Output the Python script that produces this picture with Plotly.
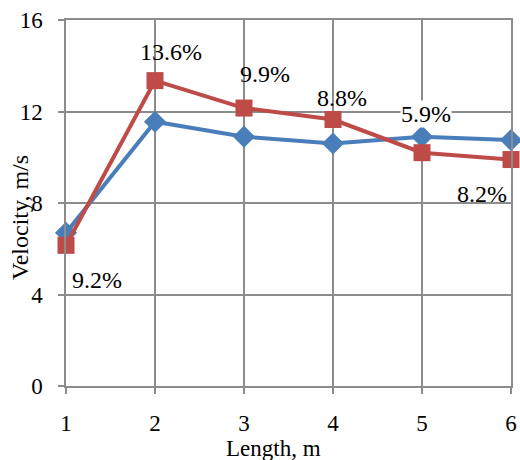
import plotly.graph_objects as go

lengths = [1, 2, 3, 4, 5, 6]
velocity_blue = [6.7, 11.55, 10.9, 10.6, 10.9, 10.75]
velocity_red = [6.15, 13.35, 12.15, 11.65, 10.2, 9.9]
pct_labels = ["9.2%", "13.6%", "9.9%", "8.8%", "5.9%", "8.2%"]
label_shift_x = [31, 16, 21, 9, 4, -29]
label_shift_y = [-35, 29, 34, 22, 39, -34]
y_ticks = [0, 4, 8, 12, 16]

FONT = "Liberation Serif, Times New Roman, serif"

fig = go.Figure()
fig.add_trace(go.Scatter(
    x=lengths, y=velocity_blue, mode="lines+markers",
    line=dict(color="#4a7ebb", width=4),
    marker=dict(symbol="diamond", size=17, color="#4a7ebb"),
    cliponaxis=False, showlegend=False))
fig.add_trace(go.Scatter(
    x=lengths, y=velocity_red, mode="lines+markers",
    line=dict(color="#be4b48", width=4),
    marker=dict(symbol="square", size=17, color="#be4b48"),
    cliponaxis=False, showlegend=False))

for i, (xv, yv, lab) in enumerate(zip(lengths, velocity_red, pct_labels)):
    fig.add_annotation(
        x=xv, y=yv, text=lab, showarrow=False,
        xshift=label_shift_x[i], yshift=label_shift_y[i],
        font=dict(family=FONT, size=24, color="black"),
        bgcolor="white" if lab == "5.9%" else "rgba(0,0,0,0)",
        borderpad=0)

axis_common = dict(
    showgrid=True, gridcolor="#8c8c8c", gridwidth=1.5,
    showline=True, linecolor="#8c8c8c", linewidth=1.5, mirror=True,
    ticks="outside", tickcolor="#8c8c8c", ticklen=6, tickwidth=1.5,
    zeroline=False, automargin=False,
    tickfont=dict(family=FONT, size=23, color="black"),
)

fig.update_xaxes(range=[1, 6], tickvals=lengths, ticklabelstandoff=10, **axis_common)
fig.update_yaxes(range=[0, 16], tickvals=y_ticks, ticklabelstandoff=11, **axis_common)

fig.add_annotation(xref="paper", yref="paper", x=(273 - 66) / 445, y=-(448 - 386) / 366,
                   text="Length, m", showarrow=False, xanchor="center", yanchor="middle",
                   font=dict(family=FONT, size=23, color="black"))
fig.add_annotation(xref="paper", yref="paper", x=-(66 - 20) / 445, y=(386 - 218) / 366,
                   text="Velocity, m/s", showarrow=False, textangle=-90,
                   xanchor="center", yanchor="middle",
                   font=dict(family=FONT, size=24, color="black"))

fig.update_layout(
    width=520, height=460,
    margin=dict(l=66, r=9, t=20, b=74),
    plot_bgcolor="white", paper_bgcolor="white",
)

fig.write_html(
    "out.html",
    config={"displayModeBar": False},
    post_script="document.body.style.margin='0';document.body.style.overflow='hidden';",
)
